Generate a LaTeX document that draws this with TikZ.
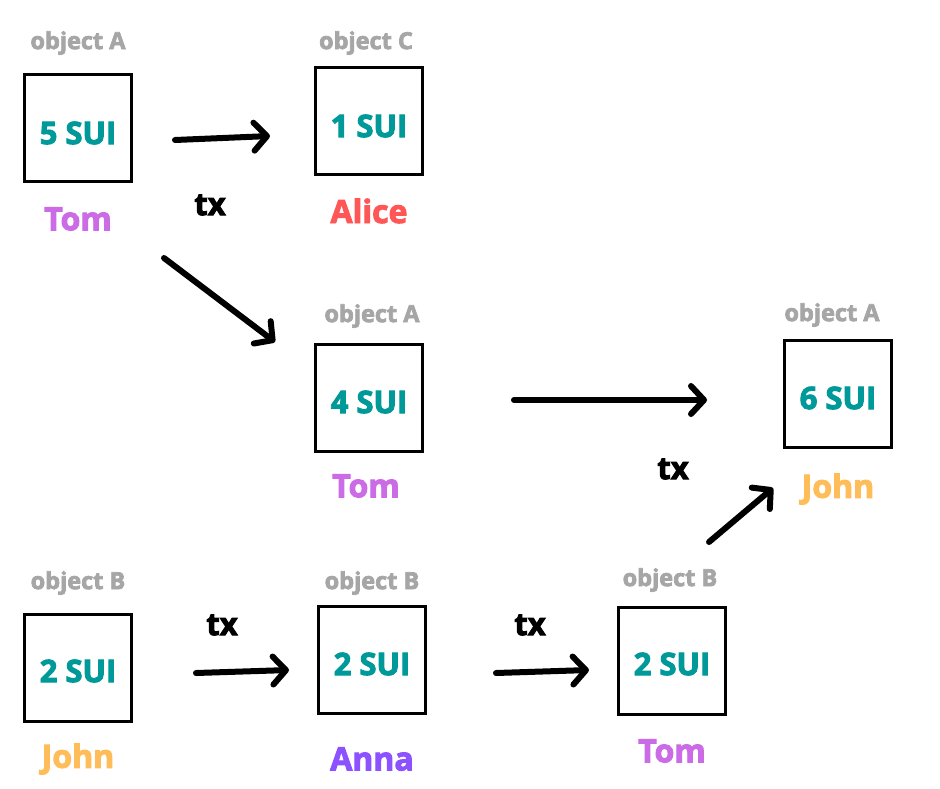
\documentclass[tikz,border=0pt]{standalone}
\usepackage{fontspec}
\setmainfont{Open Sans}[BoldFeatures={FakeBold=3}]
\usetikzlibrary{arrows.meta}
\definecolor{teal1}{HTML}{009999}
\definecolor{tomc}{HTML}{CB6CE6}
\definecolor{alicec}{HTML}{FF5757}
\definecolor{johnc}{HTML}{FFBD59}
\definecolor{annac}{HTML}{8C52FF}
\definecolor{grayc}{HTML}{A6A6A6}
\begin{document}
\begin{tikzpicture}[x=1pt,y=-1pt,
  coin/.style={draw=black,line width=3pt,minimum width=107pt,minimum height=107pt,inner sep=0pt},
  val/.style={font=\fontsize{31}{32}\selectfont\bfseries,text=teal1},
  objlbl/.style={font=\fontsize{23.5}{25}\selectfont\bfseries,text=grayc},
  owner/.style={font=\fontsize{32}{34}\selectfont\bfseries},
  txlbl/.style={font=\fontsize{31}{32}\selectfont\bfseries,text=black},
  txarrow/.style={line width=6pt,line cap=round,-{Straight Barb[length=13pt,width=28pt,line cap=round,line join=round]}}]
\useasboundingbox (0,0) rectangle (940,788);
\fill[white] (0,0) rectangle (940,788);
% boxes
\node[coin] (A1) at (78,128) {};
\node[coin] (C)  at (369,121) {};
\node[coin] (A2) at (369,398) {};
\node[coin] (A3) at (838,394) {};
\node[coin] (B1) at (78,668) {};
\node[coin] (B2) at (372,660) {};
\node[coin] (B3) at (672,661) {};
% values
\node[val] (vA1) at ([yshift=-5pt]A1.center) {5 SUI};
\node[val] (vC)  at ([yshift=-5pt]C.center) {1 SUI};
\node[val] (vA2) at ([yshift=-4pt]A2.center) {4 SUI};
\node[val] (vA3) at ([yshift=-4pt]A3.center) {6 SUI};
\node[val] (vB1) at ([yshift=-3pt]B1.center) {2 SUI};
\node[val] (vB2) at ([yshift=-4pt]B2.center) {2 SUI};
\node[val] (vB3) at ([yshift=-3pt]B3.center) {2 SUI};
% object labels
\node[objlbl] (oA1) at (78,43) {object A};
\node[objlbl] (oC)  at (366,43) {object C};
\node[objlbl] (oA2) at (372,316) {object A};
\node[objlbl] (oA3) at (832,315) {object A};
\node[objlbl] (oB1) at (78,583) {object B};
\node[objlbl] (oB2) at (372,583) {object B};
\node[objlbl] (oB3) at (670,580) {object B};
% owners
\node[owner,text=tomc]   (t1) at (78,219) {Tom};
\node[owner,text=alicec] (al) at (369,211) {Alice};
\node[owner,text=tomc]   (t2) at (366,486) {Tom};
\node[owner,text=johnc]  (j2) at (838,489) {John};
\node[owner,text=johnc]  (j1) at (78,759) {John};
\node[owner,text=annac]  (an) at (372,759) {Anna};
\node[owner,text=tomc]   (t3) at (672,751) {Tom};
% tx labels
\node[txlbl] (tx1) at (210,205) {tx};
\node[txlbl] (tx2) at (673,469) {tx};
\node[txlbl] (tx3) at (222,625) {tx};
\node[txlbl] (tx4) at (530,625) {tx};
% arrow endpoints
\coordinate (a1s) at (175,140); \coordinate (a1e) at (270,136);
\coordinate (a2s) at (164,258); \coordinate (a2e) at (275,342);
\coordinate (a3s) at (514,400); \coordinate (a3e) at (707,400);
\coordinate (a4s) at (709,542); \coordinate (a4e) at (773,488);
\coordinate (a5s) at (196,673); \coordinate (a5e) at (289,670);
\coordinate (a6s) at (496,673); \coordinate (a6e) at (589,670);
\draw[txarrow] (a1s) -- (a1e);
\draw[txarrow] (a2s) -- (a2e);
\draw[txarrow] (a3s) -- (a3e);
\draw[txarrow] (a4s) -- (a4e);
\draw[txarrow] (a5s) -- (a5e);
\draw[txarrow] (a6s) -- (a6e);
\end{tikzpicture}
\end{document}
